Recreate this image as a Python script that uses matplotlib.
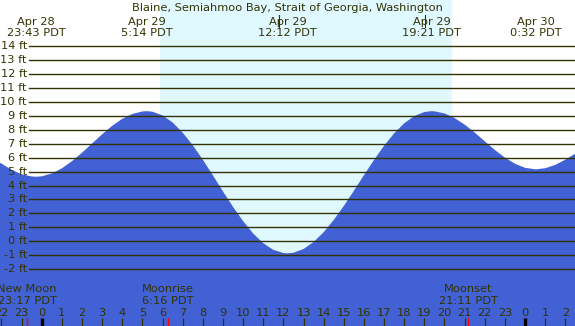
# Tide chart for Blaine, Semiahmoo Bay, Apr 29 (hour 0 = Apr 29 0:00 PDT)
import matplotlib

matplotlib.use("Agg")
import matplotlib.pyplot as plt
from matplotlib.transforms import blended_transform_factory

# tide height (ft), hours since Apr 29 00:00
tide_hours = [-2.1, -2, -1.5, -1, -0.5, -0.28, 0, 0.5, 1, 1.5, 2, 2.5, 3, 3.5, 4, 4.5, 5, 5.23,
              5.5, 6, 6.5, 7, 7.5, 8, 8.5, 9, 9.5, 10, 10.5, 11, 11.5, 12, 12.2,
              12.5, 13, 13.5, 14, 14.5, 15, 15.5, 16, 16.5, 17, 17.5, 18, 18.5, 19, 19.35,
              19.5, 20, 20.5, 21, 21.5, 22, 22.5, 23, 23.5, 24, 24.53, 25, 25.5, 26, 26.6]
tide_feet = [5.65, 5.58, 5.13, 4.81, 4.65, 4.63, 4.66, 4.86, 5.23, 5.74, 6.35, 7.01, 7.67, 8.28,
             8.78, 9.13, 9.31, 9.33,
             9.29, 9.03, 8.52, 7.79, 6.89, 5.85, 4.73, 3.58, 2.47, 1.45, 0.56, -0.13, -0.61,
             -0.84, -0.86,
             -0.82, -0.55, -0.05, 0.65, 1.53, 2.53, 3.62, 4.74, 5.83, 6.85, 7.74, 8.46, 8.98,
             9.27, 9.33,
             9.32, 9.17, 8.84, 8.37, 7.80, 7.17, 6.55, 6.00, 5.56, 5.27, 5.16, 5.24, 5.48,
             5.85, 6.38]

# high / low labels along the top
extreme_hours = [-0.28, 5.23, 12.2, 19.35, 24.53]
extreme_dates = ["Apr 28", "Apr 29", "Apr 29", "Apr 29", "Apr 30"]
extreme_times = ["23:43 PDT", "5:14 PDT", "12:12 PDT", "19:21 PDT", "0:32 PDT"]

# moon events along the bottom
moon_hours = [-0.717, 6.267, 21.183]
moon_names = ["New Moon", "Moonrise", "Moonset"]
moon_times = ["23:17 PDT", "6:16 PDT", "21:11 PDT"]

sunrise = 5.87
sunset = 20.37

feet_levels = list(range(-2, 15))
hour_ticks = list(range(-2, 27))

title = "Blaine, Semiahmoo Bay, Strait of Georgia, Washington"

night_color = "#b0c4de"
day_color = "#e0f8ff"
water_color = "#4161d4"
ink = "#333300"
fs = 8.2

W, H = 575, 326
fig = plt.figure(figsize=(W / 100, H / 100), dpi=100)
ax = fig.add_axes([0, 0, 1, 1])
ax.set_facecolor(night_color)
ax.set_xlim(-2.07, 26.48)
ax.set_ylim(-6.07, 17.30)
ax.axis("off")
ax.patch.set_visible(True)

# x in hours, y in pixels from the top
tr = blended_transform_factory(ax.transData, ax.transAxes)


def py(pix):
    return 1 - pix / H


ax.axvspan(sunrise, sunset, color=day_color, zorder=0, lw=0)
ax.fill_between(tide_hours, tide_feet, -10, color=water_color, zorder=1, lw=0)

# horizontal foot lines and labels
for f in feet_levels:
    ax.axhline(f, xmin=29 / W, xmax=1, color=ink, lw=1.0, zorder=3)
    ax.text(27 / W, f, f"{f} ft", transform=blended_transform_factory(ax.transAxes, ax.transData),
            ha="right", va="center", fontsize=fs, color=ink, zorder=4)

ax.text(0.5, py(11), title, transform=ax.transAxes, ha="center", va="baseline",
        fontsize=fs, color=ink, zorder=4)

for hx, d, t in zip(extreme_hours, extreme_dates, extreme_times):
    ax.text(hx, py(25), d, transform=tr, ha="center", va="baseline", fontsize=fs, color=ink, zorder=4)
    ax.text(hx, py(36), t, transform=tr, ha="center", va="baseline", fontsize=fs, color=ink, zorder=4)

# little marks near the top labels
for hx in [11.8, 19.03]:
    ax.plot([hx, hx], [py(15), py(27)], transform=tr, color=ink, lw=0.8, zorder=4)

for hx, n, t in zip(moon_hours, moon_names, moon_times):
    ax.text(hx, py(292.5), n, transform=tr, ha="center", va="baseline", fontsize=fs, color=ink, zorder=4)
    ax.text(hx, py(303.5), t, transform=tr, ha="center", va="baseline", fontsize=fs, color=ink, zorder=4)

# hour ticks along the bottom
for h in hour_ticks:
    ax.text(h, py(316), str(h % 24), transform=tr, ha="center", va="baseline", fontsize=fs, color=ink, zorder=4)
    lw = 2.4 if h % 24 == 0 else 0.9
    c = "#000000" if h % 24 == 0 else ink
    ax.plot([h, h], [py(318), py(327)], transform=tr, color=c, lw=lw, zorder=4, solid_capstyle="butt")

for hx in moon_hours:
    ax.plot([hx, hx], [py(318), py(327)], transform=tr, color="#ff0000", lw=1.0, zorder=5,
            solid_capstyle="butt")

fig.savefig("out.png", dpi=100)
